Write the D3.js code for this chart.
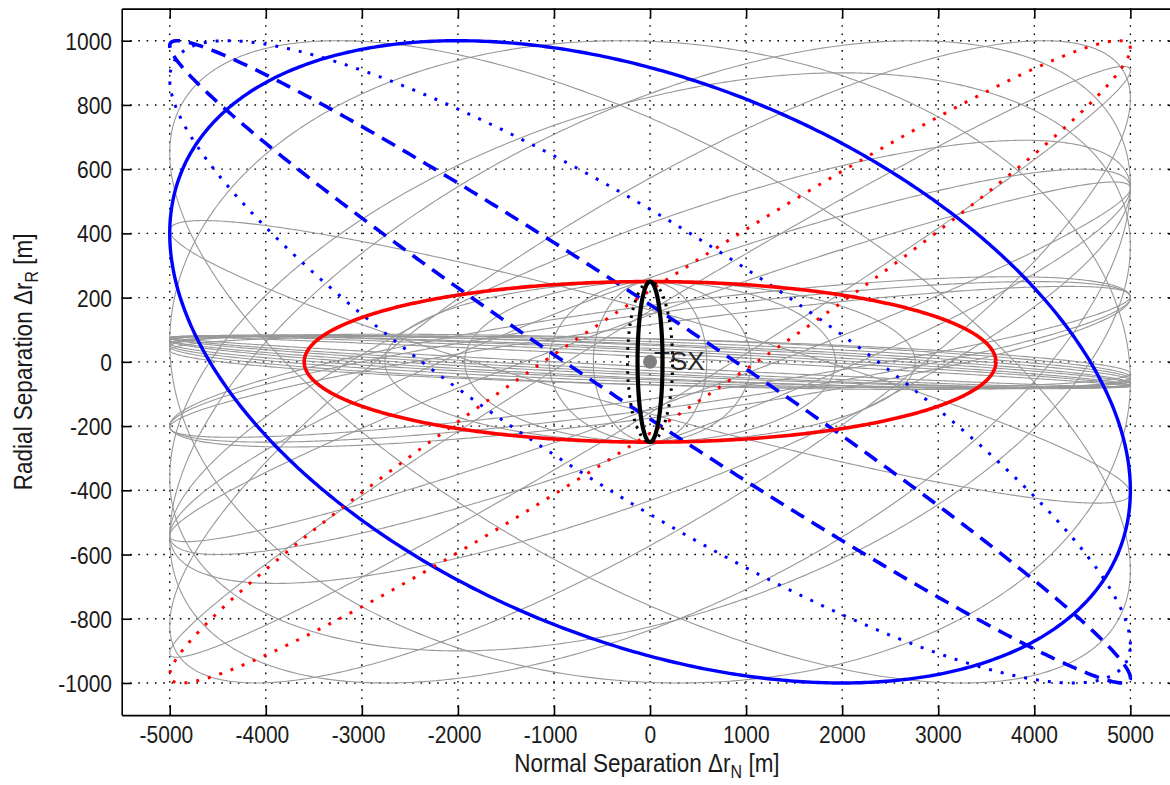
<!DOCTYPE html>
<html>
<head>
<meta charset="utf-8">
<script src="https://cdn.jsdelivr.net/npm/d3@7"></script>
<style>
  body { margin: 0; background: #fff; }
  text { font-family: "Liberation Sans", Arial, sans-serif; fill: #1a1a1a; }
</style>
</head>
<body>
<div id="chart"></div>
<script>
// tick values
const xTicks = [-5000, -4000, -3000, -2000, -1000, 0, 1000, 2000, 3000, 4000, 5000];
const yTicks = [-1000, -800, -600, -400, -200, 0, 200, 400, 600, 800, 1000];

// highlighted relative orbits: normal amplitude [m], radial amplitude [m], cos of phase between them
const orbitNames = ['blueSolid', 'blueDashed', 'blueDotted', 'redDotted', 'redSolid', 'blackDotted', 'blackSolid'];
const orbitAmpN  = [5000, 5000, 5000, 5000, 3600, 235, 130];
const orbitAmpR  = [1000, 1000, 1000, 1000, 250, 250, 250];
const orbitCos   = [-0.4, -0.984, -0.88, 0.975, 0, 0, 0];

// grey background orbits (same parametrisation)
const greyAmpN = [5000, 5000, 5000, 5000, 5000, 5000,
                  5000, 5000, 5000, 5000,
                  5000, 5000, 5000,
                  5000, 5000, 5000, 5000, 5000, 5000, 5000, 5000, 5000,
                  590, 1050, 1930, 2760];
const greyAmpR = [1000, 1000, 900, 1000, 920, 1000,
                  560, 600, 690, 440,
                  250, 235, 265,
                  78, 80, 82, 80, 84, 80, 82, 86, 80,
                  250, 250, 250, 250];
const greyCos  = [-0.65, -0.06, 0.4, 0.55, 0.985, 0.82,
                  0.965, 0.9, 0.78, -0.93,
                  0.8, 0.87, 0.75,
                  -0.98, -0.94, -0.9, -0.85, -0.79, -0.72, -0.64, -0.55, -0.45,
                  0, 0, 0, 0];

const width = 1170, height = 785;
const plot = {left: 121.7, right: 1178.4, top: 8.6, bottom: 715.1};

const svg = d3.select('#chart').append('svg')
    .attr('width', width)
    .attr('height', height)
    .style('background', '#fff');

const x = d3.scaleLinear().domain([-5500, 5500]).range([plot.left, plot.right]);
const y = d3.scaleLinear().domain([-1100, 1100]).range([plot.bottom, plot.top]);

// grid
const grid = svg.append('g').attr('stroke', '#000').attr('stroke-width', 1.4).attr('stroke-dasharray', '1.6,6.7');
grid.selectAll('.gx').data(xTicks).enter().append('line')
    .attr('x1', d => x(d)).attr('x2', d => x(d))
    .attr('y1', plot.top).attr('y2', plot.bottom);
grid.selectAll('.gy').data(yTicks).enter().append('line')
    .attr('y1', d => y(d)).attr('y2', d => y(d))
    .attr('x1', plot.left).attr('x2', plot.right);

// ellipse points for one orbit
const tSteps = d3.range(0, 721);
function orbitPoints(ampN, ampR, c) {
  const s = Math.sqrt(1 - c * c);
  return tSteps.map(k => {
    const t = k / 720 * 2 * Math.PI;
    return [ampN * Math.cos(t), ampR * (c * Math.cos(t) + s * Math.sin(t))];
  });
}
const line = d3.line().x(d => x(d[0])).y(d => y(d[1]));

svg.append('clipPath').attr('id', 'clip').append('rect')
    .attr('x', plot.left).attr('y', plot.top)
    .attr('width', plot.right - plot.left).attr('height', plot.bottom - plot.top);

const curves = svg.append('g').attr('clip-path', 'url(#clip)');

curves.selectAll('.grey')
  .data(greyAmpN.map((a, i) => orbitPoints(a, greyAmpR[i], greyCos[i])))
  .enter().append('path')
    .attr('d', line)
    .attr('fill', 'none')
    .attr('stroke', '#989898')
    .attr('stroke-width', 1.1);

// TSX label sits under the coloured orbits
curves.append('text')
  .attr('x', x(0) + 4).attr('y', y(0) + 8)
  .attr('font-size', 26)
  .style('fill', '#2a2a2a')
  .text('TSX');

const orbitStyle = {
  blueSolid:   {color: '#0000ff', w: 3.4, dash: null},
  blueDashed:  {color: '#0000ff', w: 3.6, dash: '15,9'},
  blueDotted:  {color: '#0000ff', w: 3, dash: '3,9'},
  redDotted:   {color: '#ff0000', w: 3, dash: '3,9'},
  redSolid:    {color: '#ff0000', w: 3.6, dash: null},
  blackDotted: {color: '#000000', w: 3, dash: '2.5,5.5'},
  blackSolid:  {color: '#000000', w: 4.2, dash: null}
};

orbitNames.forEach((name, i) => {
  const st = orbitStyle[name];
  curves.append('path')
    .attr('d', line(orbitPoints(orbitAmpN[i], orbitAmpR[i], orbitCos[i])))
    .attr('fill', 'none')
    .attr('stroke', st.color)
    .attr('stroke-width', st.w)
    .attr('stroke-dasharray', st.dash);
});

svg.append('circle')
  .attr('cx', x(0)).attr('cy', y(0)).attr('r', 7)
  .attr('fill', '#808080');

// axes box with inward ticks
const axisG = svg.append('g');
const tick = 10;
axisG.append('g').attr('transform', `translate(0,${plot.bottom})`)
  .call(d3.axisBottom(x).tickValues(xTicks).tickSizeInner(-tick).tickSizeOuter(0).tickFormat(''));
axisG.append('g').attr('transform', `translate(0,${plot.top})`)
  .call(d3.axisTop(x).tickValues(xTicks).tickSizeInner(-tick).tickSizeOuter(0).tickFormat(''));
axisG.append('g').attr('transform', `translate(${plot.left},0)`)
  .call(d3.axisLeft(y).tickValues(yTicks).tickSizeInner(-tick).tickSizeOuter(0).tickFormat(''));
axisG.append('g').attr('transform', `translate(${plot.right},0)`)
  .call(d3.axisRight(y).tickValues(yTicks).tickSizeInner(-tick).tickSizeOuter(0).tickFormat(''));
axisG.selectAll('path, line').attr('stroke', '#000').attr('stroke-width', 1.6);

// tick labels
svg.selectAll('.xl').data(xTicks).enter().append('g')
  .attr('transform', d => `translate(${x(d) + (d === 0 ? 6 : 23.5)},742.5) scale(1,1.18)`)
  .append('text')
    .attr('text-anchor', 'end')
    .attr('font-size', 21)
    .text(d => String(d));
svg.selectAll('.yl').data(yTicks).enter().append('g')
  .attr('transform', d => `translate(112,${y(d) + 9}) scale(1,1.18)`)
  .append('text')
    .attr('text-anchor', 'end')
    .attr('font-size', 21)
    .text(d => String(d));

// axis titles
const xTitle = svg.append('g')
  .attr('transform', `translate(647,772) scale(1,1.18)`)
  .append('text')
    .attr('text-anchor', 'middle')
    .attr('font-size', 22.5);
xTitle.append('tspan').text('Normal Separation \u0394r');
xTitle.append('tspan').attr('font-size', 16).attr('dy', 5.5).text('N');
xTitle.append('tspan').attr('dy', -5.5).text(' [m]');

const yTitle = svg.append('g')
  .attr('transform', `translate(32,${y(0)}) rotate(-90) scale(1,1.18)`)
  .append('text')
    .attr('text-anchor', 'middle')
    .attr('font-size', 22.5);
yTitle.append('tspan').text('Radial Separation \u0394r');
yTitle.append('tspan').attr('font-size', 16).attr('dy', 5.5).text('R');
yTitle.append('tspan').attr('dy', -5.5).text(' [m]');
</script>
</body>
</html>
